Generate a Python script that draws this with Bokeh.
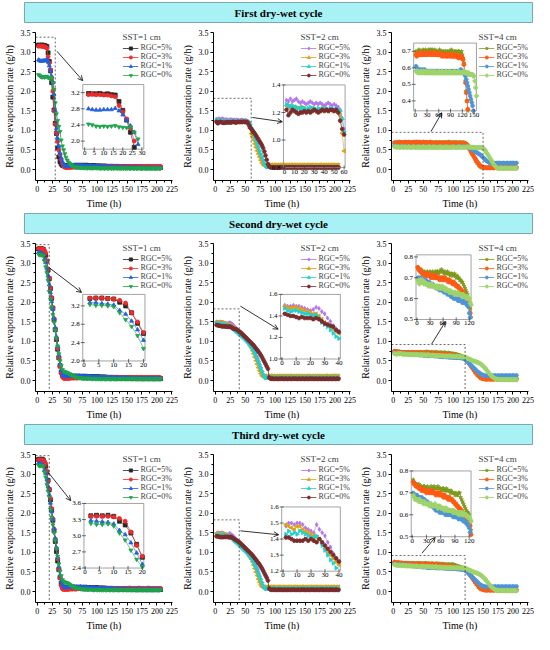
import math
from bokeh.plotting import figure
from bokeh.models import (Range1d, FixedTicker, PrintfTickFormatter, Legend,
                          LegendItem, Arrow, OpenHead)
from bokeh.layouts import column, row
from bokeh.embed import file_html
from bokeh.resources import INLINE
from bokeh.core.properties import value

FONT = "Liberation Serif"

hours = list(range(2, 208, 2))
x_ticks = [0, 25, 50, 75, 100, 125, 150, 175, 200, 225]
y_ticks = [0.0, 0.5, 1.0, 1.5, 2.0, 2.5, 3.0, 3.5]
rgc_labels = ["RGC=5%", "RGC=3%", "RGC=1%", "RGC=0%"]
sst_labels = ["SST=1 cm", "SST=2 cm", "SST=4 cm"]
cycle_titles = ["First dry-wet cycle", "Second dry-wet cycle", "Third dry-wet cycle"]

# ---------------- first cycle ----------------
c1s1_5 = [3.18,3.17,3.17,3.18,3.16,3.17,3.15,3.14,2.98,2.76,2.52,2.22,1.85,1.52,1.18,0.92,0.55,0.32,0.20,0.14,
          .11,.10,.09,.10,.09,.10,.09,.10,.10,.09,.10,.11,.10,.10,.11,.10,.10,.11,.10,.10,
          .11,.10,.10,.09,.10,.09,.10,.09,.09,.09,.08,.09,.09,.08,.08,.09,.08,.08,.08,.07,
          .08,.08,.07,.08,.07,.07,.08,.07,.07,.07,.07,.07,.06,.07,.07,.06,.07,.06,.06,.07,
          .06,.06,.07,.06,.06,.06,.06,.05,.06,.06,.06,.05,.06,.05,.06,.05,.05,.06,.05,.05,
          .05,.06,.05]
c1s1_3 = [3.15,3.16,3.15,3.15,3.14,3.14,3.12,3.10,2.88,2.72,2.55,2.32,2.00,1.50,1.15,0.93,0.72,0.50,0.38,0.25,
          .15,.08,.06,.05,.05,.06,.05,.06,.06,.06,.07,.06,.07,.07,.06,.07,.07,.07,.06,.07,
          .07,.07,.07,.07,.08,.07,.07,.07,.08,.07,.07,.08,.07,.07,.08,.07,.08,.07,.07,.08,
          .07,.08,.07,.08,.07,.07,.08,.07,.08,.07,.08,.07,.08,.08,.07,.08,.07,.08,.08,.07,
          .08,.08,.07,.08,.08,.07,.08,.08,.07,.08,.08,.07,.08,.08,.07,.08,.08,.07,.08,.08,
          .07,.08,.08]
c1s1_1 = [2.80,2.78,2.77,2.77,2.78,2.78,2.78,2.81,2.75,2.65,2.52,2.38,2.22,1.92,1.50,1.05,0.80,0.60,0.42,0.30,
          .20,.14,.11,.09,.08,.08,.09,.10,.10,.11,.10,.11,.10,.11,.10,.10,.11,.10,.10,.09,
          .10,.09,.09,.10,.09,.09,.08,.09,.08,.08,.08,.08,.07,.08,.07,.07,.08,.07,.07,.06,
          .07,.06,.07,.06,.06,.07,.06,.06,.05,.06,.06,.05,.06,.05,.05,.06,.05,.05,.04,.05,
          .05,.04,.05,.04,.05,.04,.04,.05,.04,.04,.04,.04,.05,.04,.04,.04,.03,.04,.04,.04,
          .04,.03,.04]
c1s1_0 = [2.42,2.40,2.37,2.36,2.37,2.36,2.37,2.38,2.35,2.34,2.33,2.35,2.22,2.05,1.70,1.42,1.25,1.10,0.97,0.75,
          .60,.50,.40,.31,.24,.19,.15,.12,.10,.08,.07,.06,.06,.05,.06,.05,.05,.05,.04,.05,
          .04,.04,.05,.04,.04,.04,.04,.05,.04,.04,.04,.04,.03,.04,.04,.03,.04,.04,.03,.04,
          .04,.03,.04,.03,.04,.04,.03,.04,.03,.03,.04,.03,.04,.03,.03,.04,.03,.03,.04,.03,
          .03,.04,.03,.03,.04,.03,.03,.03,.04,.03,.03,.03,.04,.03,.03,.03,.04,.03,.03,.03,
          .04,.03,.03]

c1s2_5 = [1.29,1.28,1.30,1.28,1.29,1.30,1.28,1.27,1.28,1.27,1.26,1.27,1.28,1.27,1.26,1.27,1.26,1.27,1.26,1.25,
          1.26,1.27,1.26,1.25,1.26,1.25,1.24,1.22,1.16,1.08,0.98,0.90,0.82,0.72,0.62,0.54,0.45,0.36,0.28,0.20,
          .14,.10,.08,.07,.08,.07,.08,.07,.08,.08,.07,.08,.08,.07,.08,.07,.08,.08,.07,.08,
          .08,.07,.08,.07,.08,.08,.07,.08,.07,.08,.07,.08,.08,.07,.08,.07,.08,.07,.08,.07,
          .08,.07,.08,.08,.07,.08,.07,.08,.08,.07,.08,.07,.08,.07,.08,.08,.07,.08,.07,.08,
          .07,.08,.07]
c1s2_3 = [1.25,1.24,1.25,1.23,1.24,1.22,1.23,1.24,1.22,1.23,1.22,1.21,1.22,1.23,1.22,1.21,1.22,1.21,1.23,1.22,
          1.22,1.21,1.22,1.21,1.22,1.21,1.21,1.18,1.05,0.92,0.85,0.76,0.66,0.57,0.48,0.40,0.32,0.24,0.17,0.12,
          .10,.11,.12,.11,.12,.11,.12,.11,.12,.12,.11,.12,.11,.12,.12,.11,.12,.11,.12,.11,
          .12,.11,.12,.12,.11,.12,.11,.12,.11,.12,.11,.12,.11,.12,.11,.12,.12,.11,.12,.11,
          .12,.11,.12,.11,.12,.11,.12,.12,.11,.12,.11,.12,.11,.12,.11,.12,.11,.12,.11,.12,
          .11,.12,.11]
c1s2_1 = [1.26,1.25,1.24,1.25,1.23,1.24,1.23,1.22,1.24,1.23,1.22,1.23,1.24,1.22,1.23,1.22,1.23,1.22,1.23,1.22,
          1.23,1.22,1.23,1.22,1.22,1.23,1.22,1.21,1.15,1.06,1.00,0.92,0.84,0.75,0.66,0.57,0.48,0.40,0.32,0.24,
          .16,.10,.07,.06,.07,.06,.06,.07,.06,.06,.07,.06,.06,.07,.06,.07,.06,.06,.07,.06,
          .06,.07,.06,.06,.07,.06,.07,.06,.06,.07,.06,.06,.07,.06,.06,.07,.06,.06,.07,.06,
          .07,.06,.06,.07,.06,.06,.07,.06,.06,.07,.06,.07,.06,.06,.07,.06,.06,.07,.06,.06,
          .07,.06,.06]
c1s2_0 = [1.22,1.18,1.20,1.22,1.21,1.20,1.19,1.20,1.20,1.21,1.20,1.21,1.20,1.21,1.22,1.21,1.20,1.21,1.22,1.21,
          1.22,1.21,1.22,1.22,1.21,1.22,1.20,1.14,1.08,1.04,1.00,0.96,0.92,0.87,0.82,0.77,0.72,0.67,0.62,0.55,
          .46,.36,.25,.14,.08,.06,.05,.06,.05,.05,.06,.05,.05,.06,.05,.06,.05,.05,.06,.05,
          .05,.06,.05,.05,.06,.05,.06,.05,.05,.06,.05,.05,.06,.05,.05,.06,.05,.05,.06,.05,
          .06,.05,.05,.06,.05,.05,.06,.05,.05,.06,.05,.05,.06,.05,.05,.06,.05,.05,.06,.05,
          .05,.06,.05]

c1s4_5 = [.70,.69,.70,.70,.71,.70,.70,.69,.70,.71,.70,.70,.71,.70,.70,.70,.71,.70,.71,.71,
          .70,.71,.70,.70,.71,.70,.70,.69,.70,.70,.71,.70,.70,.69,.70,.70,.69,.70,.70,.69,
          .70,.69,.70,.70,.69,.71,.70,.70,.69,.70,.70,.69,.70,.69,.70,.70,.69,.69,.70,.68,
          .66,.63,.58,.52,.46,.40,.34,.28,.22,.17,.12,.09,.07,.05,.05,.04,.05,.04,.04,.05,
          .04,.04,.05,.04,.04,.04,.05,.04,.04,.04,.04,.05,.04,.04,.04,.05,.04,.04,.04,.04,
          .05,.04,.04]
c1s4_3 = [.68,.67,.68,.69,.68,.68,.69,.68,.68,.69,.68,.69,.68,.68,.69,.68,.69,.69,.68,.69,
          .68,.69,.68,.68,.69,.68,.68,.69,.68,.68,.69,.68,.68,.67,.68,.68,.67,.68,.68,.67,
          .68,.67,.68,.68,.67,.68,.67,.67,.68,.67,.67,.68,.67,.67,.66,.67,.67,.66,.67,.66,
          .65,.62,.57,.51,.45,.40,.35,.30,.25,.20,.16,.12,.09,.07,.06,.05,.05,.04,.05,.05,
          .04,.05,.05,.04,.05,.05,.04,.05,.05,.04,.05,.05,.04,.05,.05,.04,.05,.05,.04,.05,
          .05,.04,.05]
c1s4_1 = [.61,.60,.59,.59,.58,.59,.58,.58,.59,.58,.58,.59,.58,.58,.57,.58,.58,.57,.58,.58,
          .57,.58,.58,.57,.58,.57,.58,.58,.57,.58,.58,.57,.58,.57,.57,.58,.57,.58,.57,.58,
          .57,.58,.57,.57,.58,.57,.58,.58,.57,.58,.58,.57,.58,.58,.57,.58,.58,.59,.58,.58,
          .58,.57,.56,.55,.53,.51,.49,.47,.45,.43,.41,.39,.37,.34,.31,.28,.25,.22,.20,.18,
          .17,.16,.16,.17,.16,.16,.17,.16,.17,.16,.16,.17,.16,.16,.17,.16,.16,.17,.16,.17,
          .16,.16,.17]
c1s4_0 = [.58,.58,.57,.58,.57,.57,.58,.57,.57,.58,.57,.57,.58,.57,.57,.57,.58,.57,.57,.57,
          .58,.57,.57,.57,.58,.57,.57,.57,.57,.58,.57,.57,.57,.58,.57,.57,.57,.57,.58,.57,
          .57,.57,.57,.58,.57,.57,.57,.57,.57,.58,.57,.57,.57,.57,.58,.57,.57,.57,.57,.57,
          .57,.58,.57,.57,.57,.57,.56,.57,.56,.56,.56,.56,.56,.55,.55,.52,.48,.43,.38,.33,
          .28,.23,.18,.13,.09,.06,.04,.03,.03,.04,.03,.03,.03,.04,.03,.03,.03,.04,.03,.03,
          .03,.04,.03]

# ---------------- second cycle ----------------
c2s1_5 = [3.36,3.37,3.37,3.36,3.35,3.28,3.20,3.05,2.82,2.60,2.35,2.10,1.85,1.55,1.30,1.05,0.80,0.58,0.38,0.22,
          .14,.10,.09,.10,.09,.10,.11,.10,.10,.11,.10,.11,.10,.11,.10,.10,.11,.10,.10,.11,
          .10,.10,.09,.10,.10,.09,.10,.09,.09,.10,.09,.09,.08,.09,.08,.09,.08,.08,.08,.07,
          .08,.07,.08,.07,.07,.08,.07,.07,.07,.06,.07,.06,.07,.06,.06,.07,.06,.06,.06,.05,
          .06,.06,.05,.06,.05,.06,.05,.05,.06,.05,.05,.06,.05,.05,.05,.06,.05,.05,.05,.05,
          .06,.05,.05]
c2s1_3 = [3.37,3.37,3.37,3.36,3.35,3.32,3.26,3.05,2.85,2.62,2.36,2.12,1.86,1.58,1.32,1.08,0.82,0.58,0.35,0.18,
          .09,.06,.05,.05,.06,.05,.06,.06,.07,.06,.07,.07,.06,.07,.07,.07,.08,.07,.07,.08,
          .07,.08,.07,.08,.08,.07,.08,.08,.07,.08,.08,.07,.08,.08,.07,.08,.08,.07,.08,.08,
          .07,.08,.08,.07,.08,.08,.07,.08,.08,.07,.08,.08,.07,.08,.08,.07,.08,.08,.07,.08,
          .08,.07,.08,.08,.07,.08,.08,.07,.08,.08,.07,.08,.08,.07,.08,.08,.07,.08,.08,.07,
          .08,.08,.07]
c2s1_1 = [3.27,3.27,3.25,3.24,3.22,3.10,3.02,2.87,2.68,2.45,2.25,2.02,1.82,1.58,1.35,1.12,0.88,0.65,0.42,0.25,
          .16,.12,.11,.10,.11,.10,.11,.12,.11,.12,.11,.12,.11,.11,.12,.11,.11,.10,.11,.10,
          .10,.11,.10,.10,.09,.10,.09,.09,.10,.09,.09,.08,.09,.08,.08,.09,.08,.08,.07,.08,
          .07,.08,.07,.07,.08,.07,.07,.06,.07,.06,.06,.07,.06,.06,.07,.06,.06,.05,.06,.06,
          .05,.06,.05,.06,.05,.05,.06,.05,.05,.05,.06,.05,.05,.05,.06,.05,.05,.05,.05,.06,
          .05,.05,.05]
c2s1_0 = [3.23,3.21,3.21,3.20,3.18,3.05,2.90,2.75,2.55,2.27,2.08,1.88,1.68,1.48,1.28,1.08,0.88,0.68,0.50,0.38,
          .28,.24,.22,.21,.20,.18,.17,.15,.13,.12,.10,.09,.08,.08,.07,.07,.06,.06,.05,.06,
          .05,.05,.06,.05,.05,.04,.05,.05,.04,.05,.04,.05,.04,.04,.05,.04,.04,.04,.05,.04,
          .04,.04,.05,.04,.04,.04,.04,.05,.04,.04,.04,.05,.04,.04,.04,.04,.05,.04,.04,.04,
          .05,.04,.04,.04,.04,.05,.04,.04,.04,.04,.05,.04,.04,.04,.05,.04,.04,.04,.04,.05,
          .04,.04,.04]

c2s2_5 = [1.50,1.49,1.49,1.50,1.49,1.49,1.48,1.47,1.46,1.45,1.46,1.48,1.47,1.44,1.42,1.38,1.35,1.31,1.28,1.26,
          1.24,1.21,1.19,1.16,1.13,1.10,1.07,1.03,0.99,0.95,0.90,0.84,0.77,0.69,0.60,0.51,0.42,0.33,0.24,0.16,
          .10,.08,.07,.08,.07,.08,.08,.07,.08,.07,.08,.08,.07,.08,.07,.08,.08,.07,.08,.07,
          .08,.07,.08,.08,.07,.08,.07,.08,.07,.08,.08,.07,.08,.07,.08,.07,.08,.08,.07,.08,
          .07,.08,.07,.08,.08,.07,.08,.07,.08,.07,.08,.08,.07,.08,.07,.08,.07,.08,.08,.07,
          .08,.07,.08]
c2s2_3 = [1.49,1.48,1.47,1.48,1.48,1.47,1.46,1.45,1.44,1.43,1.42,1.42,1.40,1.37,1.34,1.32,1.30,1.28,1.26,1.24,
          1.22,1.19,1.16,1.12,1.08,1.04,1.00,0.95,0.90,0.84,0.77,0.69,0.60,0.51,0.42,0.33,0.25,0.18,0.12,0.10,
          .11,.12,.11,.12,.11,.12,.12,.11,.12,.11,.12,.11,.12,.12,.11,.12,.11,.12,.11,.12,
          .11,.12,.12,.11,.12,.11,.12,.11,.12,.12,.11,.12,.11,.12,.11,.12,.12,.11,.12,.11,
          .12,.11,.12,.11,.12,.12,.11,.12,.11,.12,.11,.12,.12,.11,.12,.11,.12,.11,.12,.12,
          .11,.12,.11]
c2s2_1 = [1.47,1.45,1.44,1.45,1.45,1.44,1.43,1.42,1.42,1.41,1.40,1.41,1.38,1.34,1.32,1.30,1.27,1.24,1.21,1.19,
          1.17,1.14,1.11,1.08,1.05,1.02,0.99,0.95,0.91,0.87,0.82,0.76,0.70,0.63,0.56,0.48,0.40,0.32,0.24,0.16,
          .10,.07,.07,.08,.07,.07,.08,.07,.07,.08,.07,.07,.08,.07,.07,.08,.07,.08,.07,.07,
          .08,.07,.07,.08,.07,.08,.07,.07,.08,.07,.07,.08,.07,.07,.08,.07,.08,.07,.07,.08,
          .07,.07,.08,.07,.08,.07,.07,.08,.07,.07,.08,.07,.07,.08,.07,.08,.07,.07,.08,.07,
          .07,.08,.07]
c2s2_0 = [1.42,1.41,1.40,1.40,1.39,1.38,1.39,1.38,1.38,1.38,1.37,1.38,1.37,1.35,1.33,1.32,1.31,1.30,1.27,1.25,
          1.23,1.20,1.17,1.14,1.11,1.08,1.05,1.02,0.99,0.96,0.93,0.90,0.86,0.82,0.78,0.74,0.70,0.65,0.60,0.54,
          .48,.42,.36,.30,.08,.05,.04,.05,.04,.04,.05,.04,.04,.05,.04,.05,.04,.04,.05,.04,
          .04,.05,.04,.04,.05,.04,.05,.04,.04,.05,.04,.04,.05,.04,.04,.05,.04,.04,.05,.04,
          .05,.04,.04,.05,.04,.04,.05,.04,.04,.05,.04,.04,.05,.04,.04,.05,.04,.04,.05,.04,
          .04,.05,.04]

c2s4_5 = [.75,.74,.74,.73,.74,.73,.73,.72,.73,.72,.72,.73,.72,.72,.73,.72,.72,.73,.72,.72,
          .73,.72,.73,.73,.72,.73,.73,.74,.73,.73,.72,.73,.72,.72,.73,.72,.72,.71,.72,.72,
          .71,.71,.72,.71,.70,.71,.70,.70,.69,.69,.68,.68,.67,.66,.65,.64,.63,.62,.60,.58,
          .55,.51,.47,.42,.37,.32,.27,.22,.18,.14,.11,.08,.06,.05,.04,.04,.03,.04,.03,.03,
          .03,.04,.03,.03,.03,.04,.03,.03,.03,.04,.03,.03,.03,.04,.03,.03,.03,.04,.03,.03,
          .03,.04,.03]
c2s4_3 = [.75,.74,.74,.73,.73,.72,.72,.72,.71,.72,.71,.71,.72,.71,.71,.70,.71,.71,.70,.71,
          .70,.71,.70,.70,.70,.69,.70,.70,.69,.70,.69,.70,.69,.69,.69,.68,.69,.68,.68,.68,
          .67,.68,.67,.67,.66,.66,.66,.65,.65,.64,.64,.63,.63,.62,.61,.61,.60,.59,.58,.56,
          .53,.49,.45,.41,.37,.33,.29,.25,.21,.17,.14,.11,.08,.06,.05,.04,.04,.03,.04,.04,
          .03,.04,.04,.03,.04,.04,.03,.04,.04,.03,.04,.04,.03,.04,.04,.03,.04,.04,.03,.04,
          .04,.03,.04]
c2s4_1 = [.70,.70,.70,.69,.70,.69,.69,.69,.68,.69,.68,.68,.67,.68,.67,.67,.66,.67,.66,.66,
          .66,.65,.66,.65,.65,.64,.65,.64,.64,.64,.63,.64,.63,.63,.62,.63,.62,.62,.61,.61,
          .61,.60,.61,.60,.60,.60,.59,.60,.59,.59,.59,.58,.59,.58,.58,.58,.57,.57,.56,.53,
          .51,.48,.45,.42,.39,.36,.33,.30,.27,.24,.21,.19,.17,.15,.14,.13,.12,.12,.13,.12,
          .12,.13,.12,.12,.13,.12,.12,.13,.12,.12,.13,.12,.12,.13,.12,.12,.13,.12,.12,.13,
          .12,.12,.13]
c2s4_0 = [.69,.68,.67,.69,.68,.69,.68,.67,.68,.67,.67,.67,.66,.67,.66,.66,.67,.66,.66,.66,
          .66,.65,.66,.66,.65,.66,.65,.65,.66,.65,.65,.64,.65,.64,.64,.64,.63,.64,.63,.63,
          .63,.63,.62,.63,.62,.62,.63,.62,.62,.62,.62,.61,.62,.61,.61,.61,.60,.61,.60,.60,
          .58,.57,.55,.54,.53,.51,.50,.49,.48,.47,.46,.44,.42,.40,.37,.34,.31,.27,.23,.19,
          .15,.12,.09,.07,.05,.04,.03,.03,.02,.03,.02,.03,.02,.02,.03,.02,.02,.03,.02,.02,
          .03,.02,.02]

# ---------------- third cycle ----------------
c3s1_5 = [3.37,3.38,3.37,3.38,3.36,3.27,3.20,3.05,2.84,2.60,2.34,2.08,1.82,1.55,1.28,1.02,0.78,0.56,0.36,0.21,
          .13,.10,.09,.10,.11,.10,.10,.11,.10,.11,.10,.11,.10,.10,.11,.10,.11,.10,.10,.11,
          .10,.09,.10,.10,.09,.10,.09,.09,.10,.09,.09,.08,.09,.08,.09,.08,.08,.08,.07,.08,
          .07,.08,.07,.07,.07,.06,.07,.07,.06,.07,.06,.06,.07,.06,.06,.06,.05,.06,.06,.05,
          .06,.05,.06,.05,.05,.06,.05,.05,.06,.05,.05,.05,.06,.05,.05,.05,.05,.06,.05,.05,
          .05,.06,.05]
c3s1_3 = [3.36,3.36,3.36,3.36,3.35,3.32,3.27,3.07,2.82,2.62,2.38,2.12,1.86,1.60,1.34,1.10,0.84,0.58,0.34,0.15,
          .07,.05,.05,.06,.05,.06,.06,.07,.06,.07,.07,.06,.07,.07,.08,.07,.07,.08,.07,.08,
          .08,.07,.08,.08,.07,.08,.08,.07,.08,.08,.07,.08,.08,.07,.08,.08,.09,.08,.08,.07,
          .08,.08,.07,.08,.08,.07,.08,.08,.07,.08,.08,.07,.08,.08,.07,.08,.09,.08,.08,.07,
          .08,.08,.07,.08,.09,.08,.07,.08,.08,.07,.08,.08,.09,.08,.07,.08,.08,.07,.08,.08,
          .07,.08,.08]
c3s1_1 = [3.28,3.27,3.26,3.25,3.22,3.10,3.02,2.87,2.68,2.47,2.26,2.04,1.84,1.60,1.36,1.12,0.88,0.64,0.42,0.26,
          .18,.13,.11,.10,.11,.12,.11,.12,.11,.12,.12,.11,.12,.11,.11,.12,.11,.10,.11,.10,
          .11,.10,.10,.09,.10,.09,.10,.09,.09,.08,.09,.08,.08,.09,.08,.08,.07,.08,.07,.07,
          .08,.07,.07,.06,.07,.06,.07,.06,.06,.07,.06,.06,.05,.06,.06,.05,.06,.05,.06,.06,
          .05,.06,.05,.05,.06,.05,.05,.06,.05,.05,.06,.05,.05,.06,.05,.05,.06,.05,.05,.05,
          .06,.05,.05]
c3s1_0 = [3.23,3.21,3.21,3.22,3.18,3.05,2.92,2.73,2.56,2.42,2.10,1.90,1.70,1.50,1.30,1.10,0.90,0.70,0.52,0.40,
          .30,.26,.24,.23,.22,.20,.18,.16,.14,.12,.11,.10,.09,.08,.08,.07,.07,.06,.06,.05,
          .06,.05,.05,.06,.05,.05,.04,.05,.05,.04,.05,.04,.05,.04,.04,.05,.04,.04,.05,.04,
          .04,.05,.04,.04,.04,.05,.04,.04,.04,.05,.04,.04,.05,.04,.04,.04,.05,.04,.04,.04,
          .05,.04,.04,.04,.04,.05,.04,.04,.04,.05,.04,.04,.04,.05,.04,.04,.04,.04,.05,.04,
          .04,.04,.05]

c3s2_5 = [1.48,1.50,1.50,1.49,1.50,1.50,1.49,1.47,1.46,1.45,1.44,1.49,1.46,1.44,1.42,1.38,1.35,1.31,1.28,1.26,
          1.24,1.21,1.18,1.15,1.12,1.09,1.06,1.02,0.98,0.94,0.89,0.83,0.76,0.68,0.59,0.50,0.41,0.32,0.23,0.15,
          .10,.08,.07,.08,.07,.08,.08,.07,.08,.07,.08,.08,.07,.08,.07,.08,.08,.07,.08,.07,
          .08,.07,.08,.08,.07,.08,.07,.08,.07,.08,.08,.07,.08,.07,.08,.07,.08,.08,.07,.08,
          .07,.08,.07,.08,.08,.07,.08,.07,.08,.07,.08,.08,.07,.08,.07,.08,.07,.08,.08,.07,
          .08,.07,.08]
c3s2_3 = [1.49,1.48,1.47,1.46,1.48,1.48,1.46,1.45,1.44,1.43,1.42,1.41,1.40,1.37,1.34,1.32,1.30,1.28,1.26,1.24,
          1.21,1.18,1.15,1.11,1.07,1.03,0.99,0.94,0.89,0.83,0.76,0.68,0.59,0.50,0.41,0.32,0.24,0.17,0.12,0.11,
          .12,.11,.12,.12,.11,.12,.11,.12,.12,.11,.12,.11,.12,.12,.11,.12,.11,.12,.11,.12,
          .12,.11,.12,.11,.12,.12,.11,.12,.11,.12,.11,.12,.12,.11,.12,.11,.12,.11,.12,.12,
          .11,.12,.11,.12,.12,.11,.12,.11,.12,.11,.12,.12,.11,.12,.11,.12,.11,.12,.12,.11,
          .12,.11,.12]
c3s2_1 = [1.43,1.45,1.43,1.44,1.43,1.45,1.44,1.43,1.42,1.41,1.41,1.42,1.40,1.36,1.33,1.30,1.27,1.25,1.22,1.19,
          1.16,1.13,1.10,1.07,1.04,1.01,0.98,0.94,0.90,0.86,0.81,0.75,0.69,0.62,0.55,0.47,0.39,0.31,0.23,0.15,
          .10,.08,.07,.08,.07,.08,.07,.07,.08,.07,.07,.08,.07,.08,.07,.07,.08,.07,.07,.08,
          .07,.07,.08,.07,.08,.07,.07,.08,.07,.07,.08,.07,.08,.07,.07,.08,.07,.07,.08,.07,
          .08,.07,.07,.08,.07,.07,.08,.07,.08,.07,.07,.08,.07,.07,.08,.07,.08,.07,.07,.08,
          .07,.07,.08]
c3s2_0 = [1.41,1.41,1.40,1.39,1.39,1.39,1.39,1.40,1.39,1.40,1.39,1.38,1.40,1.38,1.36,1.34,1.32,1.30,1.28,1.26,
          1.23,1.20,1.17,1.14,1.11,1.08,1.05,1.02,0.99,0.96,0.93,0.89,0.85,0.81,0.77,0.73,0.69,0.64,0.59,0.53,
          .47,.41,.35,.28,.08,.05,.04,.05,.04,.05,.04,.04,.05,.04,.05,.04,.04,.05,.04,.04,
          .05,.04,.04,.05,.04,.05,.04,.04,.05,.04,.04,.05,.04,.05,.04,.04,.05,.04,.04,.05,
          .04,.05,.04,.04,.05,.04,.04,.05,.04,.05,.04,.04,.05,.04,.04,.05,.04,.05,.04,.04,
          .05,.04,.04]

c3s4_5 = [.76,.75,.74,.74,.74,.73,.74,.73,.73,.73,.72,.73,.73,.72,.72,.73,.72,.72,.72,.73,
          .72,.72,.73,.72,.72,.72,.73,.72,.72,.72,.71,.72,.72,.71,.71,.72,.71,.71,.71,.70,
          .71,.70,.70,.70,.69,.70,.69,.69,.70,.70,.68,.67,.66,.65,.64,.63,.62,.61,.61,.60,
          .57,.53,.49,.44,.39,.34,.29,.24,.19,.15,.11,.08,.06,.05,.04,.04,.03,.04,.03,.03,
          .03,.04,.03,.03,.03,.04,.03,.03,.03,.04,.03,.03,.03,.04,.03,.03,.03,.04,.03,.03,
          .03,.04,.03]
c3s4_3 = [.75,.74,.74,.73,.73,.73,.72,.72,.72,.71,.72,.71,.71,.71,.70,.71,.71,.70,.71,.70,
          .71,.70,.70,.70,.69,.70,.70,.69,.70,.69,.69,.69,.68,.69,.68,.68,.68,.67,.68,.67,
          .67,.67,.66,.66,.65,.65,.64,.64,.63,.63,.62,.62,.61,.60,.60,.59,.59,.58,.58,.58,
          .55,.51,.47,.43,.39,.35,.31,.27,.23,.19,.15,.12,.09,.07,.05,.04,.04,.03,.04,.04,
          .03,.04,.04,.03,.04,.04,.03,.04,.04,.03,.04,.04,.03,.04,.04,.03,.04,.04,.03,.04,
          .04,.03,.04]
c3s4_1 = [.70,.69,.69,.69,.69,.68,.68,.68,.67,.68,.67,.67,.67,.66,.66,.66,.65,.65,.65,.64,
          .64,.64,.63,.63,.62,.63,.62,.62,.61,.62,.61,.61,.61,.61,.60,.61,.60,.60,.60,.60,
          .60,.60,.59,.60,.59,.59,.59,.59,.58,.59,.58,.58,.58,.57,.57,.57,.56,.56,.55,.54,
          .52,.49,.46,.43,.40,.37,.34,.31,.28,.25,.22,.19,.17,.15,.14,.13,.12,.12,.13,.12,
          .12,.13,.12,.12,.13,.12,.12,.13,.12,.12,.13,.12,.12,.13,.12,.12,.13,.12,.12,.13,
          .12,.12,.13]
c3s4_0 = [.69,.68,.67,.67,.67,.67,.66,.67,.66,.66,.66,.65,.66,.65,.65,.65,.65,.64,.65,.65,
          .64,.64,.64,.65,.64,.64,.63,.64,.64,.63,.63,.63,.63,.62,.63,.63,.62,.62,.62,.62,
          .62,.62,.61,.62,.61,.61,.61,.61,.60,.61,.61,.60,.61,.60,.60,.60,.60,.59,.59,.59,
          .58,.57,.55,.54,.53,.51,.50,.49,.48,.47,.46,.44,.42,.40,.37,.34,.31,.27,.23,.19,
          .15,.12,.09,.07,.05,.04,.03,.03,.02,.03,.02,.03,.02,.02,.03,.02,.02,.03,.02,.02,
          .03,.02,.02]

series = [
    [[c1s1_5, c1s1_3, c1s1_1, c1s1_0], [c1s2_5, c1s2_3, c1s2_1, c1s2_0], [c1s4_5, c1s4_3, c1s4_1, c1s4_0]],
    [[c2s1_5, c2s1_3, c2s1_1, c2s1_0], [c2s2_5, c2s2_3, c2s2_1, c2s2_0], [c2s4_5, c2s4_3, c2s4_1, c2s4_0]],
    [[c3s1_5, c3s1_3, c3s1_1, c3s1_0], [c3s2_5, c3s2_3, c3s2_1, c3s2_0], [c3s4_5, c3s4_3, c3s4_1, c3s4_0]],
]

# styles per SST column
col_colors = [
    ["#262626", "#ef2a2a", "#1f5fe0", "#1fa34c"],
    ["#b273ef", "#e0a012", "#1dd0d0", "#7b2c2c"],
    ["#7d9b1d", "#ff5a14", "#4f94d9", "#a0d46c"],
]
col_markers = [
    ["square", "circle", "triangle", "inverted_triangle"],
    ["diamond", "triangle", "triangle", "hex"],
    ["star", "circle", "hex", "plus"],
]
col_angles = [[0, 0, 0, 0], [0, math.pi / 2, -math.pi / 2, 0], [0, 0, 0, 0]]

# inset (zoom) windows
inset_x_range = [[(-1, 31), (-1, 61), (-4, 156)],
                 [(-0.4, 20.5), (-1, 41), (-2, 124)],
                 [(-0.4, 20.5), (-1, 41), (-2, 124)]]
inset_y_range = [[(1.8, 3.4), (0.8, 1.4), (0.34, 0.75)],
                 [(2.0, 3.45), (1.0, 1.6), (0.5, 0.81)],
                 [(2.4, 3.6), (1.2, 1.6), (0.5, 0.8)]]
inset_x_ticks = [[[0, 5, 10, 15, 20, 25, 30], [0, 10, 20, 30, 40, 50, 60], [0, 30, 60, 90, 120, 150]],
                 [[0, 5, 10, 15, 20], [0, 10, 20, 30, 40], [0, 30, 60, 90, 120]],
                 [[0, 5, 10, 15, 20], [0, 10, 20, 30, 40], [0, 30, 60, 90, 120]]]
inset_y_ticks = [[[2.0, 2.4, 2.8, 3.2], [0.8, 1.0, 1.2, 1.4], [0.4, 0.5, 0.6, 0.7]],
                 [[2.0, 2.4, 2.8, 3.2], [1.0, 1.2, 1.4, 1.6], [0.5, 0.6, 0.7, 0.8]],
                 [[2.4, 2.7, 3.0, 3.3, 3.6], [1.2, 1.3, 1.4, 1.5, 1.6], [0.5, 0.6, 0.7, 0.8]]]
# inset frame placed in main-axis units: x0, x1, y0, y1
inset_box = [[(76, 178, 0.52, 2.17), (114, 217, 0.05, 2.16), (34, 139, 1.5, 3.23)],
             [(76, 180, 0.5, 2.2), (109, 209, 0.55, 2.2), (38, 130, 1.56, 3.21)],
             [(78, 178, 0.6, 2.25), (111, 209, 0.52, 2.16), (30, 130, 1.4, 3.08)]]
# dotted zoom-region marker: right edge, top edge
zoom_corner = [[(30, 3.38), (60, 1.82), (150, 0.95)],
               [(20, 3.47), (40, 1.83), (120, 0.92)],
               [(20, 3.47), (40, 1.83), (120, 0.92)]]
arrows = [[(33, 3.02, 76, 2.27), (62, 1.33, 112, 1.22), (63, 0.97, 81, 1.45)],
          [(21, 2.87, 74, 2.25), (42, 1.90, 105, 1.31), (64, 0.93, 87, 1.50)],
          [(19, 3.03, 56, 2.32), (42, 1.55, 106, 1.45), (48, 0.98, 70, 1.38)]]

X0, X1 = -3, 226
Y0, Y1 = -0.28, 3.5
W_PANEL, H_PANEL = 178, 187


def style_axis(ax):
    ax.axis_label_text_font = FONT
    ax.axis_label_text_font_size = "10px"
    ax.axis_label_text_font_style = "normal"
    ax.axis_label_text_color = "black"
    ax.major_label_text_font = FONT
    ax.major_label_text_font_size = "8px"
    ax.major_label_text_color = "black"
    ax.major_tick_in = 0
    ax.major_tick_out = 3
    ax.minor_tick_in = 0
    ax.minor_tick_out = 2
    ax.axis_label_standoff = 3
    ax.major_label_standoff = 2
    ax.axis_line_color = "black"
    ax.major_tick_line_color = "black"
    ax.minor_tick_line_color = "black"


def make_panel(r, c):
    p = figure(width=W_PANEL, height=H_PANEL, x_range=Range1d(X0, X1), y_range=Range1d(Y0, Y1),
               output_backend="svg", toolbar_location=None,
               min_border_left=30, min_border_right=6, min_border_top=8, min_border_bottom=28)
    p.outline_line_color = None
    p.grid.visible = False
    p.background_fill_color = "white"
    p.border_fill_color = "white"
    p.xaxis.ticker = FixedTicker(ticks=x_ticks, minor_ticks=[t + 12.5 for t in x_ticks[:-1]])
    p.yaxis.ticker = FixedTicker(ticks=y_ticks, minor_ticks=[t + 0.25 for t in y_ticks[:-1]])
    p.yaxis.formatter = PrintfTickFormatter(format="%.1f")
    p.xaxis.axis_label = "Time (h)"
    p.yaxis.axis_label = "Relative evaporation rate (g/h)"
    style_axis(p.xaxis[0])
    style_axis(p.yaxis[0])

    colors, markers, angles = col_colors[c], col_markers[c], col_angles[c]
    items = []
    for k, ys in enumerate(series[r][c]):
        ts = hours[:len(ys)]
        ys = ys[:len(ts)]
        lr = p.line(ts, ys, line_color=colors[k], line_width=0.8)
        sr = p.scatter(ts, ys, marker=markers[k], angle=angles[k], size=4,
                       fill_color=colors[k], line_color=colors[k], line_width=0.8)
        items.append(LegendItem(label=rgc_labels[k], renderers=[lr, sr]))

    leg = Legend(items=items, location="top_right", title=sst_labels[c])
    leg.title_text_font = FONT
    leg.title_text_font_size = "9px"
    leg.title_text_font_style = "normal"
    leg.title_standoff = 1
    leg.label_text_font = FONT
    leg.label_text_font_size = "8px"
    leg.glyph_width = 16
    leg.glyph_height = 8
    leg.label_height = 8
    leg.label_standoff = 2
    leg.spacing = 0
    leg.padding = 0
    leg.margin = 0
    leg.border_line_color = None
    leg.background_fill_alpha = 0
    p.add_layout(leg)

    # dotted box marking the zoomed window
    xr, yt = zoom_corner[r][c]
    p.line(x=[X0, xr, xr], y=[yt, yt, Y0], line_dash="2 2", line_color="#444444", line_width=0.8)

    # inset drawn in its own coordinate system through extra ranges
    (ix0, ix1), (iy0, iy1) = inset_x_range[r][c], inset_y_range[r][c]
    bx0, bx1, by0, by1 = inset_box[r][c]
    kx = (ix1 - ix0) / (bx1 - bx0)
    ky = (iy1 - iy0) / (by1 - by0)
    p.extra_x_ranges = {"ix": Range1d(ix0 - (bx0 - X0) * kx, ix1 + (X1 - bx1) * kx)}
    p.extra_y_ranges = {"iy": Range1d(iy0 - (by0 - Y0) * ky, iy1 + (Y1 - by1) * ky)}
    rn = dict(x_range_name="ix", y_range_name="iy")

    p.quad(left=[ix0], right=[ix1], bottom=[iy0], top=[iy1], fill_color=None,
           line_color="#8a8a8a", line_width=0.8, **rn)
    for k, ys in enumerate(series[r][c]):
        pts = [(t, v) for t, v in zip(hours, ys) if ix0 <= t <= ix1 and iy0 <= v <= iy1]
        tx = [q[0] for q in pts]
        vy = [q[1] for q in pts]
        p.line(tx, vy, line_color=colors[k], line_width=0.6, **rn)
        p.scatter(tx, vy, marker=markers[k], angle=angles[k], size=4,
                  fill_color=colors[k], line_color=colors[k], line_width=0.8, **rn)

    xt = inset_x_ticks[r][c]
    yt_in = inset_y_ticks[r][c]
    p.scatter(x=xt, y=[iy0] * len(xt), marker="dash", angle=math.pi / 2, size=4,
              line_color="#444444", line_width=0.8, **rn)
    p.scatter(x=[ix0] * len(yt_in), y=yt_in, marker="dash", size=4,
              line_color="#444444", line_width=0.8, **rn)
    p.text(x=xt, y=[iy0] * len(xt), text=[str(v) for v in xt], text_align="center",
           text_baseline="top", y_offset=2, text_font=value(FONT), text_font_size="7px",
           text_color="black", **rn)
    p.text(x=[ix0] * len(yt_in), y=yt_in, text=["%.1f" % v for v in yt_in], text_align="right",
           text_baseline="middle", x_offset=-3, text_font=value(FONT), text_font_size="7px",
           text_color="black", **rn)

    ax0, ay0, ax1, ay1 = arrows[r][c]
    p.add_layout(Arrow(end=OpenHead(size=5, line_width=0.8, line_color="black"),
                       x_start=ax0, y_start=ay0, x_end=ax1, y_end=ay1,
                       line_width=0.8, line_color="black"))
    return p


def make_banner(title):
    b = figure(width=534, height=24, x_range=Range1d(0, 534), y_range=Range1d(0, 24),
               output_backend="svg", toolbar_location=None, min_border=0,
               x_axis_location=None, y_axis_location=None)
    b.grid.visible = False
    b.outline_line_color = None
    b.quad(left=[24], right=[532], bottom=[2], top=[22], fill_color="#a8f1f5",
           line_color="#7da7ae", line_width=1)
    b.text(x=[278], y=[12], text=[title], text_align="center", text_baseline="middle",
           text_font=value(FONT), text_font_style="bold", text_font_size="11px",
           text_color="black")
    return b


blocks = []
for r in range(3):
    blocks.append(make_banner(cycle_titles[r]))
    blocks.append(row(*[make_panel(r, c) for c in range(3)]))

layout = column(*blocks)
open("out.html", "w").write(file_html(layout, INLINE))
